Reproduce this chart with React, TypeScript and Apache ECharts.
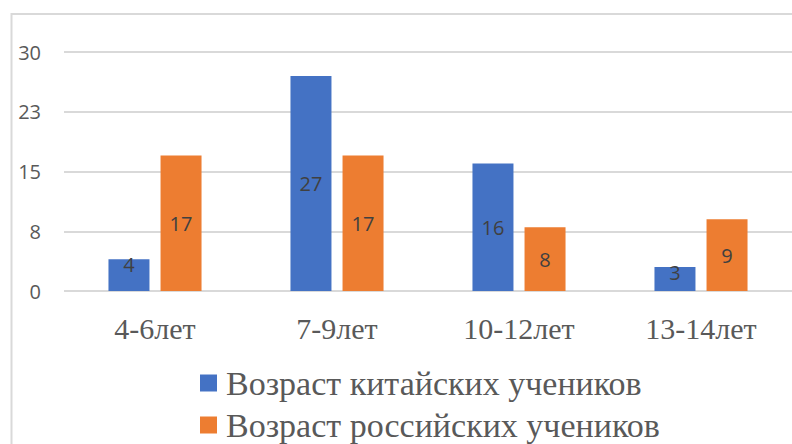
import React, { useEffect, useRef } from "react";
import * as echarts from "echarts";

const categories = ["4-6лет", "7-9лет", "10-12лет", "13-14лет"];
const chineseValues = [4, 27, 16, 3];
const russianValues = [17, 17, 8, 9];
const seriesNames = ["Возраст китайских учеников", "Возраст российских учеников"];
const smallBarThreshold = 5;

export default function App() {
  const ref = useRef<HTMLDivElement>(null);
  useEffect(() => {
    if (!ref.current) return;
    const chart = echarts.init(ref.current, null, { renderer: "svg" });
    const labelStyle = {
      show: true,
      position: "inside",
      color: "#404040",
      fontSize: 20,
      fontFamily: "Open Sans",
    };
    const mkData = (vals: number[]) =>
      vals.map((v) =>
        v < smallBarThreshold
          ? { value: v, label: { position: "insideTop", distance: -5 } }
          : { value: v }
      );
    const legendText = {
      fontFamily: "Liberation Serif",
      fontSize: 34,
      color: "#595959",
      lineHeight: 36,
      padding: [0, 0, 0, 4],
    };
    chart.setOption({
      animation: false,
      backgroundColor: "#ffffff",
      graphic: [
        {
          type: "rect",
          shape: { x: 11.5, y: 14, width: 900, height: 600 },
          style: { fill: "none", stroke: "#d9d9d9", lineWidth: 2 },
          silent: true,
        },
      ],
      grid: { left: 64, right: -8, top: 52, bottom: 444 - 291 },
      legend: [
        {
          left: 200,
          top: 365,
          padding: 0,
          itemWidth: 17,
          itemHeight: 17,
          icon: "rect",
          textStyle: legendText,
          data: [seriesNames[0]],
        },
        {
          left: 200,
          top: 407,
          padding: 0,
          itemWidth: 17,
          itemHeight: 17,
          icon: "rect",
          textStyle: legendText,
          data: [seriesNames[1]],
        },
      ],
      xAxis: {
        type: "category",
        data: categories,
        axisLine: { show: false },
        axisTick: { show: false },
        axisLabel: {
          fontFamily: "Liberation Serif",
          fontSize: 30,
          color: "#595959",
          margin: 22,
        },
      },
      yAxis: {
        type: "value",
        min: 0,
        max: 30,
        interval: 7.5,
        axisLine: { show: false },
        axisTick: { show: false },
        splitLine: { lineStyle: { color: "#d9d9d9", width: 2 } },
        axisLabel: {
          formatter: (v: number) => String(Math.round(v)),
          fontFamily: "Open Sans",
          fontSize: 20,
          color: "#595959",
          margin: 23,
        },
      },
      series: [
        {
          name: seriesNames[0],
          type: "bar",
          data: mkData(chineseValues),
          barWidth: 41,
          barGap: "27%",
          itemStyle: { color: "#4472c4" },
          label: labelStyle,
        },
        {
          name: seriesNames[1],
          type: "bar",
          data: mkData(russianValues),
          barWidth: 41,
          barGap: "27%",
          itemStyle: { color: "#ed7d31" },
          label: labelStyle,
        },
      ],
    });
    return () => chart.dispose();
  }, []);
  return (
    <div
      ref={ref}
      style={{ position: "fixed", left: 0, top: 0, width: 792, height: 444 }}
    />
  );
}
